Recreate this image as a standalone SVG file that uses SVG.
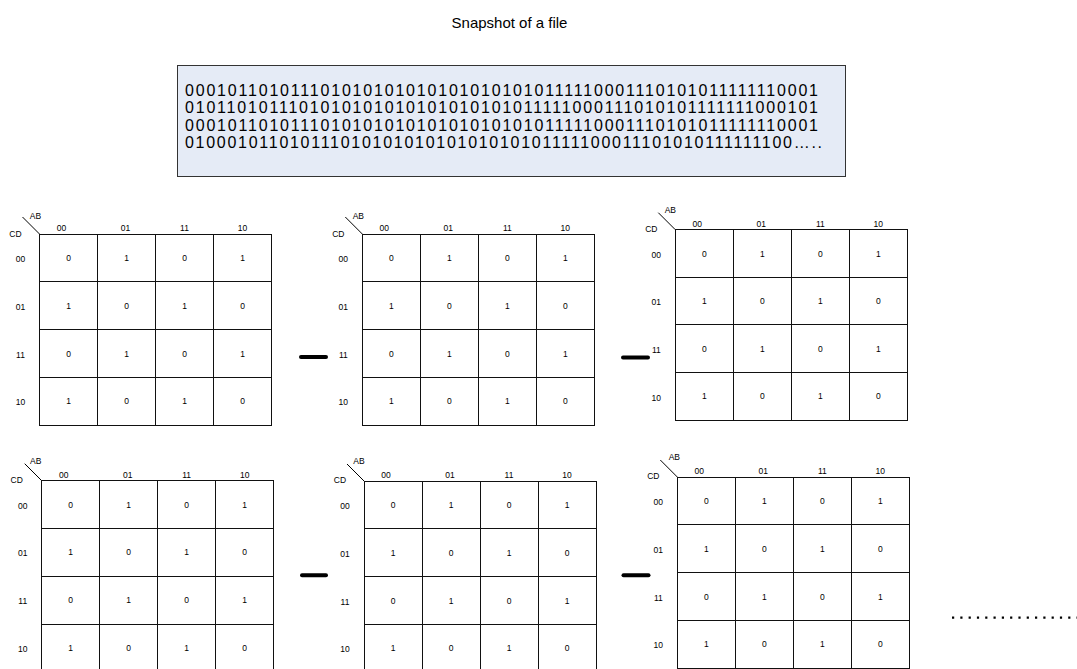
<svg xmlns="http://www.w3.org/2000/svg" width="1077" height="669" viewBox="0 0 1077 669">
<defs>
<style>
text{font-family:"Liberation Sans",Arial,sans-serif;fill:#000}
.title{font-size:15px;text-anchor:middle}
.bits{font-size:16px}
.box{fill:#e5ebf6;stroke:#333;stroke-width:1}
.k text{font-size:8.5px;text-anchor:middle}
.cell{fill:#fff;stroke:#111;stroke-width:1}
.diag{stroke:#000;stroke-width:1}
.minus{stroke:#000;stroke-width:4;stroke-linecap:round}
.dots{stroke:#000;stroke-width:2.2;stroke-dasharray:2.2 6.1}
</style>
</defs>
<rect width="1077" height="669" fill="#fff"/>
<g id="title"><text class="title" x="509.5" y="28">Snapshot of a file</text></g>
<g id="file-box">
<rect class="box" x="177.5" y="65.5" width="668" height="111"/>
<text class="bits" x="185" y="95.5" textLength="633" lengthAdjust="spacing">0001011010111010101010101010101010111110001110101011111110001</text>
<text class="bits" x="185" y="113" textLength="633" lengthAdjust="spacing">0101101011101010101010101010101011111000111010101111111000101</text>
<text class="bits" x="185" y="130.5" textLength="633" lengthAdjust="spacing">0001011010111010101010101010101010111110001110101011111110001</text>
<text class="bits" x="185" y="148" textLength="637" lengthAdjust="spacing">01000101101011101010101010101010101111100011101010111111100…..</text>
</g>

<g id="kmap1" class="k" transform="translate(39.5,234)">
<line class="diag" x1="-17" y1="-17" x2="0" y2="0"/>
<text x="-4" y="-15">AB</text><text x="-24" y="3">CD</text>
<text x="22" y="-3">00</text><text x="86" y="-3">01</text><text x="145" y="-3">11</text><text x="203" y="-3">10</text>
<text x="-19" y="28">00</text><text x="-19" y="75.7">01</text><text x="-19" y="123.5">11</text><text x="-19" y="171.3">10</text>
<g shape-rendering="crispEdges">
<rect class="cell" x="0" y="0" width="58" height="47.8"/><rect class="cell" x="58" y="0" width="58" height="47.8"/><rect class="cell" x="116" y="0" width="58" height="47.8"/><rect class="cell" x="174" y="0" width="58" height="47.8"/>
<rect class="cell" x="0" y="47.8" width="58" height="47.8"/><rect class="cell" x="58" y="47.8" width="58" height="47.8"/><rect class="cell" x="116" y="47.8" width="58" height="47.8"/><rect class="cell" x="174" y="47.8" width="58" height="47.8"/>
<rect class="cell" x="0" y="95.6" width="58" height="47.8"/><rect class="cell" x="58" y="95.6" width="58" height="47.8"/><rect class="cell" x="116" y="95.6" width="58" height="47.8"/><rect class="cell" x="174" y="95.6" width="58" height="47.8"/>
<rect class="cell" x="0" y="143.4" width="58" height="47.8"/><rect class="cell" x="58" y="143.4" width="58" height="47.8"/><rect class="cell" x="116" y="143.4" width="58" height="47.8"/><rect class="cell" x="174" y="143.4" width="58" height="47.8"/>
</g>
<text x="29" y="27">0</text><text x="87" y="27">1</text><text x="145" y="27">0</text><text x="203" y="27">1</text>
<text x="29" y="74.7">1</text><text x="87" y="74.7">0</text><text x="145" y="74.7">1</text><text x="203" y="74.7">0</text>
<text x="29" y="122.5">0</text><text x="87" y="122.5">1</text><text x="145" y="122.5">0</text><text x="203" y="122.5">1</text>
<text x="29" y="170.3">1</text><text x="87" y="170.3">0</text><text x="145" y="170.3">1</text><text x="203" y="170.3">0</text>
</g>

<g id="kmap2" class="k" transform="translate(362.3,234)">
<line class="diag" x1="-17" y1="-17" x2="0" y2="0"/>
<text x="-4" y="-15">AB</text><text x="-24" y="3">CD</text>
<text x="22" y="-3">00</text><text x="86" y="-3">01</text><text x="145" y="-3">11</text><text x="203" y="-3">10</text>
<text x="-19" y="28">00</text><text x="-19" y="75.7">01</text><text x="-19" y="123.5">11</text><text x="-19" y="171.3">10</text>
<g shape-rendering="crispEdges">
<rect class="cell" x="0" y="0" width="58" height="47.8"/><rect class="cell" x="58" y="0" width="58" height="47.8"/><rect class="cell" x="116" y="0" width="58" height="47.8"/><rect class="cell" x="174" y="0" width="58" height="47.8"/>
<rect class="cell" x="0" y="47.8" width="58" height="47.8"/><rect class="cell" x="58" y="47.8" width="58" height="47.8"/><rect class="cell" x="116" y="47.8" width="58" height="47.8"/><rect class="cell" x="174" y="47.8" width="58" height="47.8"/>
<rect class="cell" x="0" y="95.6" width="58" height="47.8"/><rect class="cell" x="58" y="95.6" width="58" height="47.8"/><rect class="cell" x="116" y="95.6" width="58" height="47.8"/><rect class="cell" x="174" y="95.6" width="58" height="47.8"/>
<rect class="cell" x="0" y="143.4" width="58" height="47.8"/><rect class="cell" x="58" y="143.4" width="58" height="47.8"/><rect class="cell" x="116" y="143.4" width="58" height="47.8"/><rect class="cell" x="174" y="143.4" width="58" height="47.8"/>
</g>
<text x="29" y="27">0</text><text x="87" y="27">1</text><text x="145" y="27">0</text><text x="203" y="27">1</text>
<text x="29" y="74.7">1</text><text x="87" y="74.7">0</text><text x="145" y="74.7">1</text><text x="203" y="74.7">0</text>
<text x="29" y="122.5">0</text><text x="87" y="122.5">1</text><text x="145" y="122.5">0</text><text x="203" y="122.5">1</text>
<text x="29" y="170.3">1</text><text x="87" y="170.3">0</text><text x="145" y="170.3">1</text><text x="203" y="170.3">0</text>
</g>

<g id="kmap3" class="k" transform="translate(675.3,229.7)">
<line class="diag" x1="-17" y1="-17" x2="0" y2="0"/>
<text x="-5" y="-17">AB</text><text x="-24" y="2.5">CD</text>
<text x="22" y="-3">00</text><text x="86" y="-3">01</text><text x="145" y="-3">11</text><text x="203" y="-3">10</text>
<text x="-19" y="28">00</text><text x="-19" y="75.7">01</text><text x="-19" y="123.5">11</text><text x="-19" y="171.3">10</text>
<g shape-rendering="crispEdges">
<rect class="cell" x="0" y="0" width="58" height="47.6"/><rect class="cell" x="58" y="0" width="58" height="47.6"/><rect class="cell" x="116" y="0" width="58" height="47.6"/><rect class="cell" x="174" y="0" width="58" height="47.6"/>
<rect class="cell" x="0" y="47.6" width="58" height="47.6"/><rect class="cell" x="58" y="47.6" width="58" height="47.6"/><rect class="cell" x="116" y="47.6" width="58" height="47.6"/><rect class="cell" x="174" y="47.6" width="58" height="47.6"/>
<rect class="cell" x="0" y="95.2" width="58" height="47.6"/><rect class="cell" x="58" y="95.2" width="58" height="47.6"/><rect class="cell" x="116" y="95.2" width="58" height="47.6"/><rect class="cell" x="174" y="95.2" width="58" height="47.6"/>
<rect class="cell" x="0" y="142.8" width="58" height="47.6"/><rect class="cell" x="58" y="142.8" width="58" height="47.6"/><rect class="cell" x="116" y="142.8" width="58" height="47.6"/><rect class="cell" x="174" y="142.8" width="58" height="47.6"/>
</g>
<text x="29" y="27">0</text><text x="87" y="27">1</text><text x="145" y="27">0</text><text x="203" y="27">1</text>
<text x="29" y="74.5">1</text><text x="87" y="74.5">0</text><text x="145" y="74.5">1</text><text x="203" y="74.5">0</text>
<text x="29" y="122">0</text><text x="87" y="122">1</text><text x="145" y="122">0</text><text x="203" y="122">1</text>
<text x="29" y="169.6">1</text><text x="87" y="169.6">0</text><text x="145" y="169.6">1</text><text x="203" y="169.6">0</text>
</g>

<g id="kmap4" class="k" transform="translate(41.7,480.7)">
<line class="diag" x1="-17" y1="-17" x2="0" y2="0"/>
<text x="-6" y="-17">AB</text><text x="-25" y="2">CD</text>
<text x="22" y="-3">00</text><text x="86" y="-3">01</text><text x="145" y="-3">11</text><text x="203" y="-3">10</text>
<text x="-19" y="28">00</text><text x="-19" y="75.7">01</text><text x="-19" y="123.5">11</text><text x="-19" y="171.3">10</text>
<g shape-rendering="crispEdges">
<rect class="cell" x="0" y="0" width="58" height="47.8"/><rect class="cell" x="58" y="0" width="58" height="47.8"/><rect class="cell" x="116" y="0" width="58" height="47.8"/><rect class="cell" x="174" y="0" width="58" height="47.8"/>
<rect class="cell" x="0" y="47.8" width="58" height="47.8"/><rect class="cell" x="58" y="47.8" width="58" height="47.8"/><rect class="cell" x="116" y="47.8" width="58" height="47.8"/><rect class="cell" x="174" y="47.8" width="58" height="47.8"/>
<rect class="cell" x="0" y="95.6" width="58" height="47.8"/><rect class="cell" x="58" y="95.6" width="58" height="47.8"/><rect class="cell" x="116" y="95.6" width="58" height="47.8"/><rect class="cell" x="174" y="95.6" width="58" height="47.8"/>
<rect class="cell" x="0" y="143.4" width="58" height="47.8"/><rect class="cell" x="58" y="143.4" width="58" height="47.8"/><rect class="cell" x="116" y="143.4" width="58" height="47.8"/><rect class="cell" x="174" y="143.4" width="58" height="47.8"/>
</g>
<text x="29" y="27">0</text><text x="87" y="27">1</text><text x="145" y="27">0</text><text x="203" y="27">1</text>
<text x="29" y="74.7">1</text><text x="87" y="74.7">0</text><text x="145" y="74.7">1</text><text x="203" y="74.7">0</text>
<text x="29" y="122.5">0</text><text x="87" y="122.5">1</text><text x="145" y="122.5">0</text><text x="203" y="122.5">1</text>
<text x="29" y="170.3">1</text><text x="87" y="170.3">0</text><text x="145" y="170.3">1</text><text x="203" y="170.3">0</text>
</g>

<g id="kmap5" class="k" transform="translate(364,481)">
<line class="diag" x1="-17" y1="-17" x2="0" y2="0"/>
<text x="-5" y="-17">AB</text><text x="-24" y="2">CD</text>
<text x="22" y="-3">00</text><text x="86" y="-3">01</text><text x="145" y="-3">11</text><text x="203" y="-3">10</text>
<text x="-19" y="28">00</text><text x="-19" y="75.7">01</text><text x="-19" y="123.5">11</text><text x="-19" y="171.3">10</text>
<g shape-rendering="crispEdges">
<rect class="cell" x="0" y="0" width="58" height="47.8"/><rect class="cell" x="58" y="0" width="58" height="47.8"/><rect class="cell" x="116" y="0" width="58" height="47.8"/><rect class="cell" x="174" y="0" width="58" height="47.8"/>
<rect class="cell" x="0" y="47.8" width="58" height="47.8"/><rect class="cell" x="58" y="47.8" width="58" height="47.8"/><rect class="cell" x="116" y="47.8" width="58" height="47.8"/><rect class="cell" x="174" y="47.8" width="58" height="47.8"/>
<rect class="cell" x="0" y="95.6" width="58" height="47.8"/><rect class="cell" x="58" y="95.6" width="58" height="47.8"/><rect class="cell" x="116" y="95.6" width="58" height="47.8"/><rect class="cell" x="174" y="95.6" width="58" height="47.8"/>
<rect class="cell" x="0" y="143.4" width="58" height="47.8"/><rect class="cell" x="58" y="143.4" width="58" height="47.8"/><rect class="cell" x="116" y="143.4" width="58" height="47.8"/><rect class="cell" x="174" y="143.4" width="58" height="47.8"/>
</g>
<text x="29" y="27">0</text><text x="87" y="27">1</text><text x="145" y="27">0</text><text x="203" y="27">1</text>
<text x="29" y="74.7">1</text><text x="87" y="74.7">0</text><text x="145" y="74.7">1</text><text x="203" y="74.7">0</text>
<text x="29" y="122.5">0</text><text x="87" y="122.5">1</text><text x="145" y="122.5">0</text><text x="203" y="122.5">1</text>
<text x="29" y="170.3">1</text><text x="87" y="170.3">0</text><text x="145" y="170.3">1</text><text x="203" y="170.3">0</text>
</g>

<g id="kmap6" class="k" transform="translate(677.3,477)">
<line class="diag" x1="-17" y1="-17" x2="0" y2="0"/>
<text x="-3" y="-17.5">AB</text><text x="-24" y="1.5">CD</text>
<text x="22" y="-3">00</text><text x="86" y="-3">01</text><text x="145" y="-3">11</text><text x="203" y="-3">10</text>
<text x="-19" y="28">00</text><text x="-19" y="75.7">01</text><text x="-19" y="123.5">11</text><text x="-19" y="171.3">10</text>
<g shape-rendering="crispEdges">
<rect class="cell" x="0" y="0" width="58" height="47.8"/><rect class="cell" x="58" y="0" width="58" height="47.8"/><rect class="cell" x="116" y="0" width="58" height="47.8"/><rect class="cell" x="174" y="0" width="58" height="47.8"/>
<rect class="cell" x="0" y="47.8" width="58" height="47.8"/><rect class="cell" x="58" y="47.8" width="58" height="47.8"/><rect class="cell" x="116" y="47.8" width="58" height="47.8"/><rect class="cell" x="174" y="47.8" width="58" height="47.8"/>
<rect class="cell" x="0" y="95.6" width="58" height="47.8"/><rect class="cell" x="58" y="95.6" width="58" height="47.8"/><rect class="cell" x="116" y="95.6" width="58" height="47.8"/><rect class="cell" x="174" y="95.6" width="58" height="47.8"/>
<rect class="cell" x="0" y="143.4" width="58" height="47.8"/><rect class="cell" x="58" y="143.4" width="58" height="47.8"/><rect class="cell" x="116" y="143.4" width="58" height="47.8"/><rect class="cell" x="174" y="143.4" width="58" height="47.8"/>
</g>
<text x="29" y="27">0</text><text x="87" y="27">1</text><text x="145" y="27">0</text><text x="203" y="27">1</text>
<text x="29" y="74.7">1</text><text x="87" y="74.7">0</text><text x="145" y="74.7">1</text><text x="203" y="74.7">0</text>
<text x="29" y="122.5">0</text><text x="87" y="122.5">1</text><text x="145" y="122.5">0</text><text x="203" y="122.5">1</text>
<text x="29" y="170.3">1</text><text x="87" y="170.3">0</text><text x="145" y="170.3">1</text><text x="203" y="170.3">0</text>
</g>

<g id="connectors">
<line class="minus" x1="301" y1="357" x2="326" y2="357"/>
<line class="minus" x1="623" y1="357.5" x2="648" y2="357.5"/>
<line class="minus" x1="302" y1="575.3" x2="326" y2="575.3"/>
<line class="minus" x1="623.5" y1="575.3" x2="648.5" y2="575.3"/>
<line class="dots" x1="952" y1="617.7" x2="1077" y2="617.7"/>
</g>
</svg>
